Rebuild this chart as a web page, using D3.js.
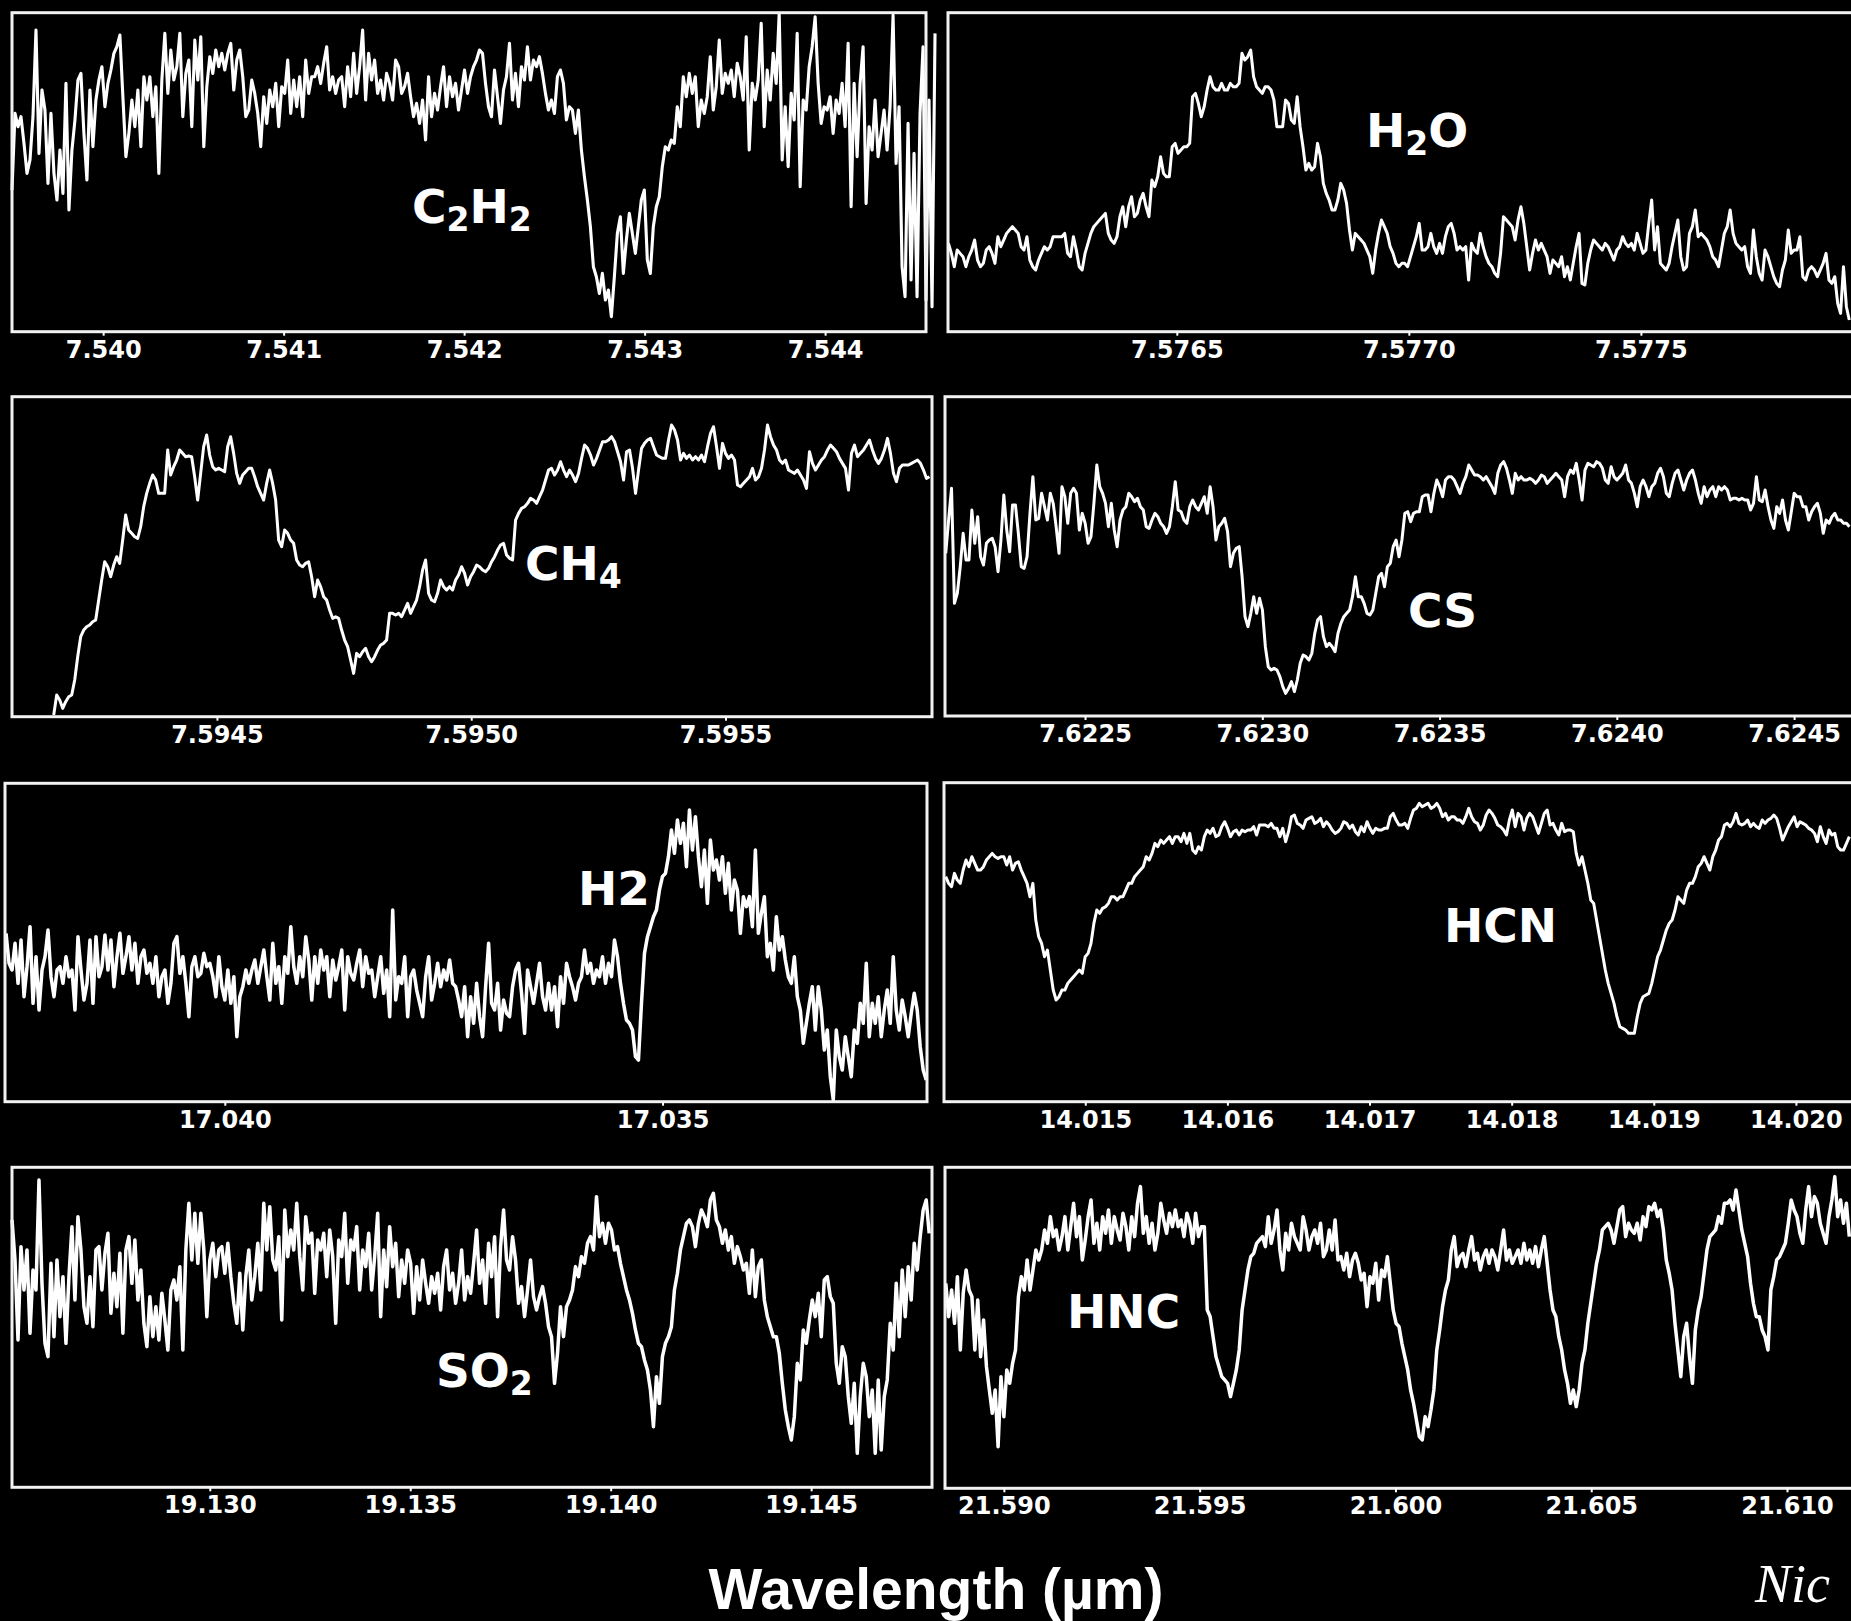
<!DOCTYPE html>
<html>
<head>
<meta charset="utf-8">
<script src="https://cdn.jsdelivr.net/npm/d3@7"></script>
<style>
  body { margin: 0; background: #000; }
  svg { display: block; }
</style>
</head>
<body>
<svg id="chart"></svg>
<script>
// relative flux (arbitrary units), evenly sampled between the two wavelengths in *Range
var c2h2Flux = [
  430,660,620,650,570,480,520,650,910,540,730,670,450,660,480,400,550,420,750,370,
  550,640,760,780,600,460,730,560,700,760,800,680,750,790,840,860,895,710,530,600,
  700,620,730,560,770,700,770,650,740,480,760,900,720,850,760,800,900,650,780,820,
  620,880,760,890,560,740,830,780,850,800,840,790,840,870,730,820,850,770,650,670,
  760,720,660,560,710,630,730,680,750,620,740,720,820,660,760,680,770,650,820,720,
  770,770,800,750,810,860,730,770,720,760,770,680,800,710,840,720,800,910,700,840,
  760,820,720,760,700,780,750,700,820,800,720,740,780,710,650,690,630,700,580,770,
  650,720,670,740,800,680,770,710,750,670,730,790,720,770,800,820,850,840,750,680,
  650,790,710,630,730,770,870,700,780,680,800,760,860,760,820,800,830,780,720,670,
  700,660,770,790,750,640,680,670,600,670,550,470,400,320,200,170,120,180,100,130,
  50,170,300,350,180,280,360,300,240,320,400,430,220,180,320,380,410,500,560,550,
  580,570,680,620,770,710,780,720,770,620,700,660,710,830,670,740,880,720,780,750,
  790,710,810,770,700,890,550,750,700,760,930,620,790,700,840,750,960,520,680,500,
  720,640,900,440,700,670,800,860,950,750,630,680,670,710,600,700,660,750,620,870,
  380,750,530,750,860,390,620,550,700,530,600,670,550,680,955,510,680,200,110,630,
  160,540,110,660,860,100,700,80,900
];
var c2h2Range = [7.539495, 7.544609];
var c2h2Ticks = [7.540, 7.541, 7.542, 7.543, 7.544];

var h2oFlux = [
  270,240,200,250,240,230,200,230,250,280,220,200,210,250,260,240,210,290,260,280,
  300,310,320,310,300,260,250,290,220,200,190,220,240,260,250,260,290,290,290,290,
  300,240,230,290,250,200,190,240,270,300,320,330,340,350,360,300,280,270,290,350,
  380,320,380,410,350,360,400,420,380,350,460,440,470,530,480,470,470,560,570,540,
  550,560,560,570,710,720,690,650,680,730,770,740,730,730,750,730,730,750,740,740,
  750,840,820,830,850,770,740,730,720,740,740,730,700,620,620,620,700,690,640,630,
  710,620,560,490,510,490,500,570,530,450,420,400,370,370,400,450,430,390,310,250,
  300,290,280,270,250,230,180,250,300,340,320,300,260,240,210,200,210,210,200,230,
  260,290,330,250,250,260,300,260,240,270,240,290,320,330,300,250,260,250,260,160,
  270,250,240,300,260,230,210,200,180,170,240,350,340,330,320,280,340,380,330,260,
  190,240,280,250,270,250,230,180,220,210,200,230,170,200,160,210,260,300,150,145,
  210,250,280,270,260,250,270,260,240,220,250,260,290,270,260,270,250,300,270,240,
  250,330,400,250,320,210,200,190,210,260,300,340,230,190,200,300,320,370,290,300,
  290,280,260,230,220,200,250,300,320,370,300,270,260,250,260,200,180,310,230,180,
  160,250,230,200,170,150,140,190,220,310,240,250,250,290,170,160,190,200,190,170,
  190,210,240,160,150,170,90,60,200,80,40
];
var h2oRange = [7.576008, 7.577949];
var h2oTicks = [7.5765, 7.5770, 7.5775];

var ch4Flux = [
  -5,55,40,15,35,50,55,100,170,230,250,260,265,275,280,340,400,455,440,410,
  445,470,450,520,595,550,540,530,525,560,620,660,690,715,700,660,660,660,790,715,
  740,760,790,780,770,772,770,710,640,720,800,835,775,740,730,735,730,725,800,830,
  780,720,690,715,725,735,735,710,680,660,640,690,730,690,640,520,500,550,540,520,
  510,460,445,440,450,455,410,350,400,380,350,340,310,285,290,285,250,220,200,160,
  120,180,170,185,195,170,155,170,190,205,210,220,300,300,295,300,290,310,330,300,
  320,340,380,430,460,360,340,335,360,400,380,370,380,370,400,415,440,420,385,410,
  425,445,440,430,425,435,455,470,490,505,510,475,465,460,580,600,615,620,630,645,
  640,630,650,670,700,730,735,715,730,755,730,710,730,715,695,720,765,805,795,775,
  745,765,790,815,815,820,830,815,785,755,700,785,790,735,660,730,795,810,820,825,
  800,775,770,765,765,820,865,850,820,760,780,765,775,760,770,760,775,755,800,840,
  860,800,735,810,780,765,775,760,685,680,690,700,710,735,700,710,735,790,865,830,
  805,790,760,750,760,730,725,720,730,715,700,675,785,750,730,745,760,770,790,805,
  795,785,765,750,735,670,780,805,770,780,790,805,820,790,765,750,765,790,825,780,
  720,695,735,745,745,745,750,755,760,750,730,705,710
];
var ch4Range = [7.594179, 7.595901];
var ch4Ticks = [7.5945, 7.5950, 7.5955];

var csFlux = [
  480,580,675,330,360,440,540,460,460,610,510,590,470,445,510,520,525,500,425,520,
  655,550,485,625,625,540,440,435,470,600,710,580,585,660,620,580,660,630,560,480,
  680,650,570,660,675,660,550,600,570,510,530,630,745,680,660,630,560,630,550,500,
  580,610,620,660,650,635,645,620,610,560,555,580,600,590,570,560,540,560,620,695,
  610,605,580,570,620,640,620,610,630,650,600,680,620,520,560,570,585,545,440,480,
  495,500,410,290,260,300,350,300,345,310,200,140,130,135,130,110,80,60,75,95,
  65,100,150,175,170,160,180,240,280,290,230,200,210,200,185,240,270,290,300,310,
  350,410,350,350,330,300,295,310,360,410,420,380,440,450,500,520,470,520,600,605,
  575,600,605,605,650,655,655,605,660,700,680,650,700,710,710,700,680,660,690,710,
  745,730,715,715,710,700,710,695,680,660,720,745,755,735,700,660,720,700,710,700,
  700,705,700,690,700,715,710,690,700,710,720,710,700,650,710,730,720,750,700,640,
  730,750,745,740,755,750,735,700,690,740,710,700,710,720,745,700,690,660,620,680,
  700,680,650,680,690,720,735,710,660,650,690,720,730,700,670,700,720,730,700,660,
  630,680,650,670,680,650,680,670,680,670,640,645,645,640,645,640,640,610,630,710,
  640,635,670,620,580,555,620,600,640,580,550,605,660,650,650,620,620,580,605,620,
  630,600,540,580,570,590,600,580,580,570,570,560
];
var csRange = [7.622107, 7.624656];
var csTicks = [7.6225, 7.6230, 7.6235, 7.6240, 7.6245];

var h2Flux = [
  510,420,400,480,360,490,320,410,530,300,440,280,400,440,520,380,320,400,410,360,
  440,380,400,280,500,400,310,360,490,300,500,380,410,505,400,490,350,440,510,390,
  440,500,400,480,360,440,460,390,420,360,440,320,380,400,300,360,480,500,390,440,
  360,260,410,440,380,390,450,410,420,380,320,440,350,310,400,300,380,200,320,350,
  400,360,400,430,360,410,460,380,310,480,360,410,300,440,390,530,410,360,440,380,
  500,430,310,440,360,460,400,440,320,430,370,410,460,280,440,390,370,420,460,350,
  440,390,400,320,380,440,330,400,260,580,310,380,360,440,260,380,400,340,300,260,
  380,440,310,360,420,350,400,370,430,360,350,310,260,350,200,320,240,360,260,200,
  350,480,300,280,360,220,310,270,260,350,400,420,330,210,400,350,300,360,420,320,
  280,360,280,350,230,380,300,420,380,350,310,360,380,460,390,420,360,400,380,440,
  360,420,380,490,440,360,300,250,240,220,140,130,300,450,500,530,560,580,640,680,
  690,740,820,750,850,780,840,710,880,760,860,740,650,760,600,790,700,730,670,740,
  630,720,580,670,640,510,620,590,620,530,760,510,570,620,440,480,400,560,460,500,
  430,380,360,440,320,280,180,240,300,350,220,350,280,160,220,80,10,220,140,100,
  200,140,80,220,180,300,240,420,200,300,240,320,200,280,340,240,440,280,220,310,
  260,200,270,330,280,170,100,70
];
var h2Range = [17.042499, 17.031988];
var h2Ticks = [17.040, 17.035];

var hcnFlux = [
  680,660,650,690,670,660,700,730,710,740,720,700,700,710,730,740,750,740,735,740,
  740,715,740,700,720,725,700,680,660,620,660,550,500,480,440,460,400,340,310,320,
  340,340,360,370,380,390,400,390,440,450,480,540,580,570,585,590,600,620,620,610,
  620,620,640,660,660,680,690,700,710,740,730,750,780,770,790,780,790,800,780,800,
  800,785,810,780,810,760,750,770,760,800,820,810,825,800,805,830,845,825,800,815,
  820,805,820,815,820,820,830,805,835,835,835,830,840,825,825,800,825,785,815,860,
  865,840,835,825,850,855,860,840,845,855,830,845,835,820,810,815,825,845,840,825,
  835,815,805,830,815,845,825,810,825,820,820,825,825,860,870,850,835,835,840,825,
  855,880,885,900,890,895,900,885,890,900,885,860,870,850,860,860,850,850,840,860,
  885,860,845,840,820,835,865,880,870,855,835,830,820,805,850,880,830,870,860,820,
  855,870,860,835,810,840,870,880,835,840,820,805,840,815,820,820,815,750,715,740,
  700,660,610,600,550,500,450,400,360,330,300,260,230,225,220,210,210,210,260,300,
  320,325,330,360,400,440,460,490,520,540,550,580,620,610,600,640,660,660,680,710,
  720,740,720,700,740,760,790,800,835,840,830,845,870,840,835,840,850,830,840,830,
  825,850,840,850,855,865,855,825,790,810,830,845,860,830,845,840,835,825,820,810,
  785,830,800,780,820,805,810,770,760,760,780,800
];
var hcnRange = [14.014018, 14.020376];
var hcnTicks = [14.015, 14.016, 14.017, 14.018, 14.019, 14.020];

var so2Flux = [
  790,670,430,710,580,700,450,640,580,910,600,420,380,660,440,670,500,620,420,620,
  770,550,800,700,530,480,620,470,700,710,580,690,750,510,630,530,690,450,700,740,
  600,730,550,640,480,410,560,440,530,430,570,490,400,580,610,550,650,400,700,840,
  670,810,660,810,700,500,670,720,620,700,710,630,720,620,540,480,630,460,620,700,
  550,620,720,580,840,700,830,670,640,740,490,820,680,760,700,840,680,580,800,720,
  750,570,730,700,750,620,760,680,480,730,680,810,600,730,700,770,580,700,650,750,
  580,680,810,500,700,590,770,650,720,560,670,600,700,660,510,650,550,670,600,540,
  620,570,630,520,650,700,580,630,540,600,700,550,620,570,660,760,600,670,540,720,
  620,740,500,710,820,670,640,740,670,540,590,500,580,670,560,520,560,590,540,470,
  440,300,390,530,440,530,550,580,650,620,680,660,720,740,700,860,740,780,720,780,
  760,700,710,660,620,580,550,510,460,420,410,370,340,280,170,320,240,380,420,440,
  470,580,630,700,740,780,790,770,710,780,820,800,770,850,870,790,770,720,760,700,
  740,660,710,680,640,660,570,700,560,650,670,550,500,470,440,440,390,300,220,170,
  130,200,360,310,460,420,490,550,500,570,440,610,620,560,540,360,300,410,380,260,
  180,300,90,260,360,320,200,280,90,310,100,260,310,480,400,600,440,640,500,650,
  550,720,640,740,820,850,750
];
var so2Range = [19.125066, 19.147945];
var so2Ticks = [19.130, 19.135, 19.140, 19.145];

var hncFlux = [
  600,500,580,480,620,400,570,640,580,560,400,550,380,490,350,280,210,280,110,320,
  200,340,300,360,400,560,620,580,670,580,640,700,670,700,760,720,800,740,760,700,
  740,800,700,770,840,740,800,670,730,800,850,720,780,700,800,750,820,720,800,760,
  730,810,770,700,800,740,840,890,750,800,720,780,700,750,840,790,750,810,770,820,
  770,790,740,810,780,720,810,740,770,770,520,500,440,380,350,320,310,300,260,300,
  340,400,520,580,640,680,690,720,730,740,710,800,720,760,820,700,640,750,700,780,
  740,720,700,800,760,700,740,760,720,780,680,700,760,700,790,670,680,640,690,620,
  670,690,660,610,630,530,620,600,660,550,640,620,680,600,520,480,470,420,380,340,
  280,240,190,140,130,200,170,220,280,400,460,530,580,610,700,740,650,680,690,650,
  700,740,670,690,640,680,700,660,700,680,640,700,760,670,700,660,680,700,660,720,
  670,700,660,710,650,700,740,660,580,520,500,440,400,340,300,240,280,230,280,360,
  400,480,540,600,660,700,760,770,780,760,720,770,820,830,740,780,760,750,780,730,
  800,770,830,820,840,800,820,760,670,630,580,480,400,320,440,480,380,300,460,520,
  560,630,700,740,750,760,800,780,840,840,850,820,880,820,760,720,680,600,540,500,
  500,460,440,400,580,620,670,680,700,720,780,850,820,800,750,720,820,890,800,860,
  840,780,750,720,800,850,920,800,850,780,840,740
];
var hncRange = [21.588516, 21.611591];
var hncTicks = [21.590, 21.595, 21.600, 21.605, 21.610];

var xTitle = "Wavelength (\u00b5m)";
var credit = "Nic";

var W = 1851, H = 1621;

// one entry per panel: limits, frame box [x0,y0,x1,y1], label pieces [text, isSubscript]
var panels = [
  {flux: c2h2Flux, range: c2h2Range, ticks: c2h2Ticks, fmt: ".3f", lw: 3.1,
   xlim: [7.539495, 7.544559], ylim: [5, 962], box: [12, 12.7, 926, 331.7],
   label: [["C",0],["2",1],["H",0],["2",1]], at: [412, 223]},
  {flux: h2oFlux, range: h2oRange, ticks: h2oTicks, fmt: ".4f", lw: 3,
   xlim: [7.576007, 7.577985], ylim: [5, 962], box: [948, 12.7, 1866, 331.7],
   label: [["H",0],["2",1],["O",0]], at: [1366, 147]},
  {flux: ch4Flux, range: ch4Range, ticks: ch4Ticks, fmt: ".4f", lw: 3,
   xlim: [7.594097, 7.595906], ylim: [-10, 950], box: [12, 396.7, 932, 716.7],
   label: [["CH",0],["4",1]], at: [525, 580]},
  {flux: csFlux, range: csRange, ticks: csTicks, fmt: ".4f", lw: 3,
   xlim: [7.622105, 7.624700], ylim: [-8, 950], box: [945, 396.7, 1865, 716],
   label: [["CS",0]], at: [1408, 627]},
  {flux: h2Flux, range: h2Range, ticks: h2Ticks, fmt: ".3f", lw: 3.5,
   xlim: [17.042511, 17.031979], ylim: [5, 960], box: [5, 783.3, 927, 1101.7],
   label: [["H2",0]], at: [578, 905]},
  {flux: hcnFlux, range: hcnRange, ticks: hcnTicks, fmt: ".3f", lw: 3,
   xlim: [14.014006, 14.020479], ylim: [5, 962], box: [944, 782.7, 1864, 1101.7],
   label: [["HCN",0]], at: [1444, 942]},
  {flux: so2Flux, range: so2Range, ticks: so2Ticks, fmt: ".3f", lw: 3.5,
   xlim: [19.125066, 19.148015], ylim: [-12, 948], box: [12, 1167.3, 932, 1487.3],
   label: [["SO",0],["2",1]], at: [436, 1387]},
  {flux: hncFlux, range: hncRange, ticks: hncTicks, fmt: ".3f", lw: 3.5,
   xlim: [21.588496, 21.611992], ylim: [-15, 948], box: [945, 1167.3, 1865, 1488.3],
   label: [["HNC",0]], at: [1067, 1328]}
];

var svg = d3.select("#chart")
    .attr("width", W)
    .attr("height", H)
    .style("background", "#000");

panels.forEach(function(p) {
  var x = d3.scaleLinear().domain(p.xlim).range([p.box[0], p.box[2]]);
  var y = d3.scaleLinear().domain(p.ylim).range([p.box[3], p.box[1]]);
  var step = (p.range[1] - p.range[0]) / (p.flux.length - 1);

  var line = d3.line()
      .x(function(d, i) { return x(p.range[0] + i * step); })
      .y(function(d) { return y(d); });

  svg.append("path")
      .datum(p.flux)
      .attr("d", line)
      .attr("fill", "none")
      .attr("stroke", "#fff")
      .attr("stroke-width", p.lw)
      .attr("stroke-linejoin", "round");

  svg.append("rect")
      .attr("x", p.box[0])
      .attr("y", p.box[1])
      .attr("width", p.box[2] - p.box[0])
      .attr("height", p.box[3] - p.box[1])
      .attr("fill", "none")
      .attr("stroke", "#f2f2f2")
      .attr("stroke-width", 3);

  var ax = svg.append("g")
      .attr("transform", "translate(0," + p.box[3] + ")")
      .call(d3.axisBottom(x).tickValues(p.ticks).tickFormat(d3.format(p.fmt))
        .tickSizeInner(4).tickSizeOuter(0).tickPadding(5));
  ax.select(".domain").remove();
  ax.selectAll(".tick line").attr("stroke", "#fff").attr("stroke-width", 2);
  ax.selectAll(".tick text")
      .attr("fill", "#fff")
      .style("font-family", "'DejaVu Sans', sans-serif")
      .style("font-weight", "bold")
      .style("font-size", "24px");

  var t = svg.append("text")
      .attr("x", p.at[0])
      .attr("y", p.at[1])
      .attr("fill", "#fff")
      .style("font-family", "'DejaVu Sans', sans-serif")
      .style("font-weight", "bold")
      .style("font-size", "47px");
  var shifted = 0;
  p.label.forEach(function(part) {
    var dy = (part[1] ? 8 : 0) - shifted;
    shifted = part[1] ? 8 : 0;
    t.append("tspan")
        .attr("dy", dy)
        .style("font-size", part[1] ? "33px" : null)
        .text(part[0]);
  });
});

svg.append("text")
    .attr("x", 936)
    .attr("y", 1609)
    .attr("text-anchor", "middle")
    .attr("fill", "#fff")
    .style("font-family", "'Liberation Sans', Arial, sans-serif")
    .style("font-weight", "bold")
    .style("font-size", "57px")
    .text(xTitle);

svg.append("text")
    .attr("x", 1755)
    .attr("y", 1602)
    .attr("fill", "#fff")
    .style("font-family", "'Liberation Serif', serif")
    .style("font-style", "italic")
    .style("font-size", "54px")
    .text(credit);
</script>
</body>
</html>
